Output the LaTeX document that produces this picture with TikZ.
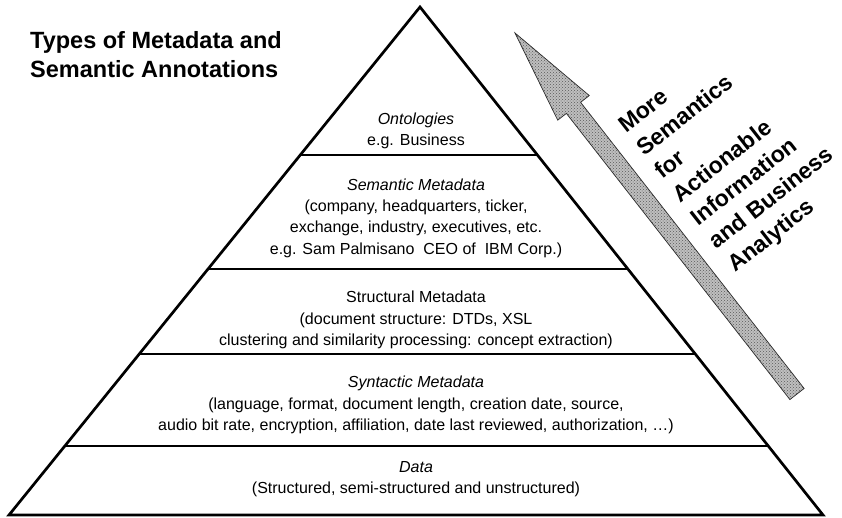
\documentclass[tikz,border=0pt]{standalone}
\usepackage{fontspec}
\setmainfont{Liberation Sans}
\usetikzlibrary{calc,patterns}
\begin{document}
\begin{tikzpicture}[x=1pt,y=-1pt,
  edge/.style={line width=2.7pt, line join=miter},
  divider/.style={line width=2.5pt},
  layer/.style={font=\fontsize{16}{21.3}\selectfont, align=center, inner sep=0pt},
  titletext/.style={font=\bfseries\fontsize{23.5}{29}\selectfont, align=left, inner sep=0pt},
  arrowtext/.style={font=\bfseries\fontsize{23}{29.5}\selectfont, align=left, inner sep=0pt},
  bigarrow/.style={fill=gray!50, draw=gray!30!black, line width=0.7pt,
     postaction={pattern=crosshatch dots, pattern color=black!65}}]
\useasboundingbox (0,0) rectangle (842,518);
\fill[white] (0,0) rectangle (842,518);

% pyramid
\coordinate (apex) at (420,7);
\coordinate (bl) at (9,515);
\coordinate (br) at (823,515);
\draw[edge] (bl) -- (apex) -- (br) -- cycle;
\foreach \t/\n in {0.2913/a,0.5157/b,0.6831/c,0.8642/d} {
  \coordinate (L\n) at ($(apex)!\t!(bl)$);
  \coordinate (R\n) at ($(apex)!\t!(br)$);
  \draw[divider] (L\n) -- (R\n);
}

% title
\node[titletext, anchor=north west] (title) at (30,31) {Types of Metadata and\\Semantic Annotations};

% layer texts
\node[layer] (onto) at (416,131) {\textit{Ontologies}\\e.g. Business};
\node[layer] (sem) at (416,218) {\textit{Semantic Metadata}\\(company, headquarters, ticker,\\exchange, industry, executives, etc.\\e.g. Sam Palmisano\ \ CEO of\ \ IBM Corp.)};
\node[layer] (struct) at (416,320) {Structural Metadata\\(document structure: DTDs, XSL\\clustering and similarity processing: concept extraction)};
\node[layer] (synt) at (416,405) {\textit{Syntactic Metadata}\\(language, format, document length, creation date, source,\\audio bit rate, encryption, affiliation, date last reviewed, authorization, \dots)};
\node[layer] (data) at (416,479) {\textit{Data}\\(Structured, semi-structured and unstructured)};

% big arrow
\coordinate (tip) at (515,33);
\coordinate (tail) at (797,394);
\coordinate (hb) at ($(tip)!95pt!(tail)$);
\coordinate (h1) at ($(hb)!20pt!90:(tip)$);
\coordinate (h2) at ($(hb)!20pt!-90:(tip)$);
\coordinate (s1) at ($(hb)!9pt!90:(tip)$);
\coordinate (s2) at ($(hb)!9pt!-90:(tip)$);
\coordinate (t1) at ($(tail)!9pt!-90:(tip)$);
\coordinate (t2) at ($(tail)!9pt!90:(tip)$);
\path[bigarrow] (tip) -- (h1) -- (s1) -- (t2) -- (t1) -- (s2) -- (h2) -- cycle;

% arrow text
\node[arrowtext, rotate=38, anchor=north west] (atext) at (616,121) {More\\Semantics\\for\\Actionable\\Information\\and Business\\Analytics};
\end{tikzpicture}
\end{document}
